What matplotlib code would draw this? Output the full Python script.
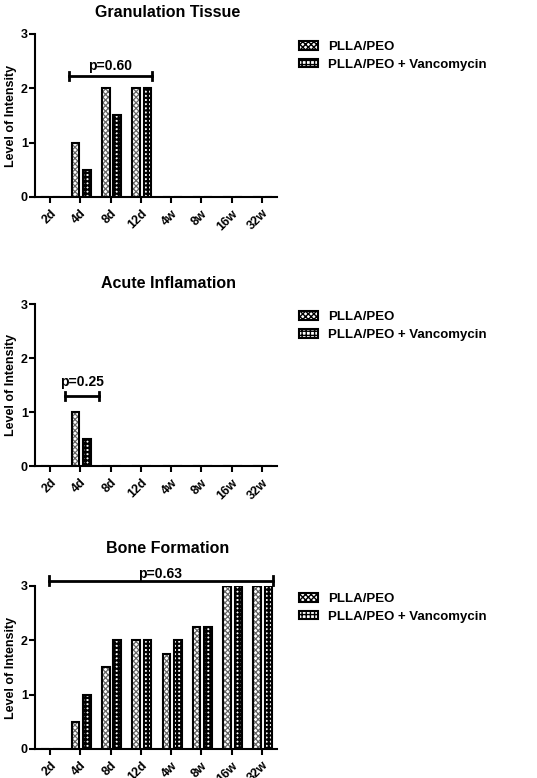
import matplotlib
matplotlib.use("Agg")
import matplotlib.pyplot as plt
from matplotlib.patches import Patch
import numpy as np

plt.rcParams["font.family"] = ["Liberation Sans", "DejaVu Sans"]
plt.rcParams["font.weight"] = "bold"

time_points = ["2d", "4d", "8d", "12d", "4w", "8w", "16w", "32w"]
series_names = ["PLLA/PEO", "PLLA/PEO + Vancomycin"]

granulation_plla = [0, 1, 2, 2, 0, 0, 0, 0]
granulation_vanco = [0, 0.5, 1.5, 2, 0, 0, 0, 0]

acute_plla = [0, 1, 0, 0, 0, 0, 0, 0]
acute_vanco = [0, 0.5, 0, 0, 0, 0, 0, 0]

bone_plla = [0, 0.5, 1.5, 2, 1.75, 2.25, 3, 3]
bone_vanco = [0, 1, 2, 2, 2, 2.25, 3, 3]

panel_titles = ["Granulation Tissue", "Acute Inflamation", "Bone Formation"]
p_labels = ["p=0.60", "p=0.25", "p=0.63"]

# bracket (x start, x end, y, text gap) for each p-value annotation
brackets = [(0.62, 3.36, 2.23, 0.05), (0.49, 1.61, 1.29, 0.13),
            (-0.05, 7.35, 3.1, 0.0)]
title_pads = [12, 12, 24]

panels = [
    (granulation_plla, granulation_vanco),
    (acute_plla, acute_vanco),
    (bone_plla, bone_vanco),
]
axes_rects = [
    [0.065, 0.7468, 0.451, 0.2095],
    [0.065, 0.401, 0.451, 0.208],
    [0.065, 0.0373, 0.451, 0.2095],
]

# fill styles: (hatch, hatch colour, hatch linewidth)
fills = [("xxxxxx", "#666666", 0.9), ("++++", "black", 1.6)]


def hatched_bar(ax, xs, heights, width, hatch, hcolor, hlw):
    # texture layer first, outline drawn on top
    with plt.rc_context({"hatch.linewidth": hlw}):
        tex = ax.bar(xs, heights, width=width, facecolor="white",
                     edgecolor=hcolor, linewidth=0, hatch=hatch)
    for p in tex:
        if hasattr(p, "set_hatch_linewidth"):
            p.set_hatch_linewidth(hlw)
    ax.bar(xs, heights, width=width, facecolor="none", edgecolor="black",
           linewidth=1.5)


fig = plt.figure(figsize=(5.37, 7.78), dpi=100)

x = np.arange(len(time_points))
bar_w = 0.25
offset = 0.19

for idx, (vals, rect) in enumerate(zip(panels, axes_rects)):
    ax = fig.add_axes(rect)
    for k, (series, (h, hc, hlw)) in enumerate(zip(vals, fills)):
        hatched_bar(ax, x + 0.03 + (k * 2 - 1) * offset, series, bar_w, h, hc, hlw)

    ax.set_xlim(-0.5, 7.5)
    ax.set_ylim(0, 3)
    ax.set_yticks([0, 1, 2, 3])
    ax.set_xticks(x)
    ax.set_xticklabels(time_points, rotation=45, ha="right",
                       rotation_mode="anchor", fontsize=9, fontweight="bold")
    ax.tick_params(axis="y", labelsize=9, width=1.5, length=4, pad=1)
    ax.tick_params(axis="x", width=1.5, length=4)
    for lbl in ax.get_yticklabels():
        lbl.set_fontweight("bold")
    ax.spines["top"].set_visible(False)
    ax.spines["right"].set_visible(False)
    ax.spines["left"].set_linewidth(1.5)
    ax.spines["bottom"].set_linewidth(1.5)
    ax.set_ylabel("Level of Intensity", fontsize=9, fontweight="bold")
    ax.yaxis.set_label_coords(-0.075, 0.5)
    ax.set_title(panel_titles[idx], fontsize=11.5, fontweight="bold",
                 pad=title_pads[idx], x=0.55)

    x0, x1, y, gap = brackets[idx]
    cap = 0.075
    ax.plot([x0, x1], [y, y], color="black", lw=2, clip_on=False)
    ax.plot([x0, x0], [y - cap, y + cap], color="black", lw=2, clip_on=False)
    ax.plot([x1, x1], [y - cap, y + cap], color="black", lw=2, clip_on=False)
    ax.text((x0 + x1) / 2, y + gap, p_labels[idx], ha="center", va="bottom",
            fontsize=10, fontweight="bold", clip_on=False)

    handles = []
    for name, (h, hc, hlw) in zip(series_names, fills):
        with plt.rc_context({"hatch.linewidth": hlw}):
            handles.append(Patch(facecolor="white", edgecolor="black",
                                 linewidth=1.5, hatch=h, label=name))
    ax.legend(handles=handles, loc="upper left", bbox_to_anchor=(1.04, 1.03),
              frameon=False, handlelength=1.45, handleheight=0.6,
              handletextpad=0.75, labelspacing=0.45,
              prop={"weight": "bold", "size": 9.5})

fig.savefig("out.png", dpi=100)
